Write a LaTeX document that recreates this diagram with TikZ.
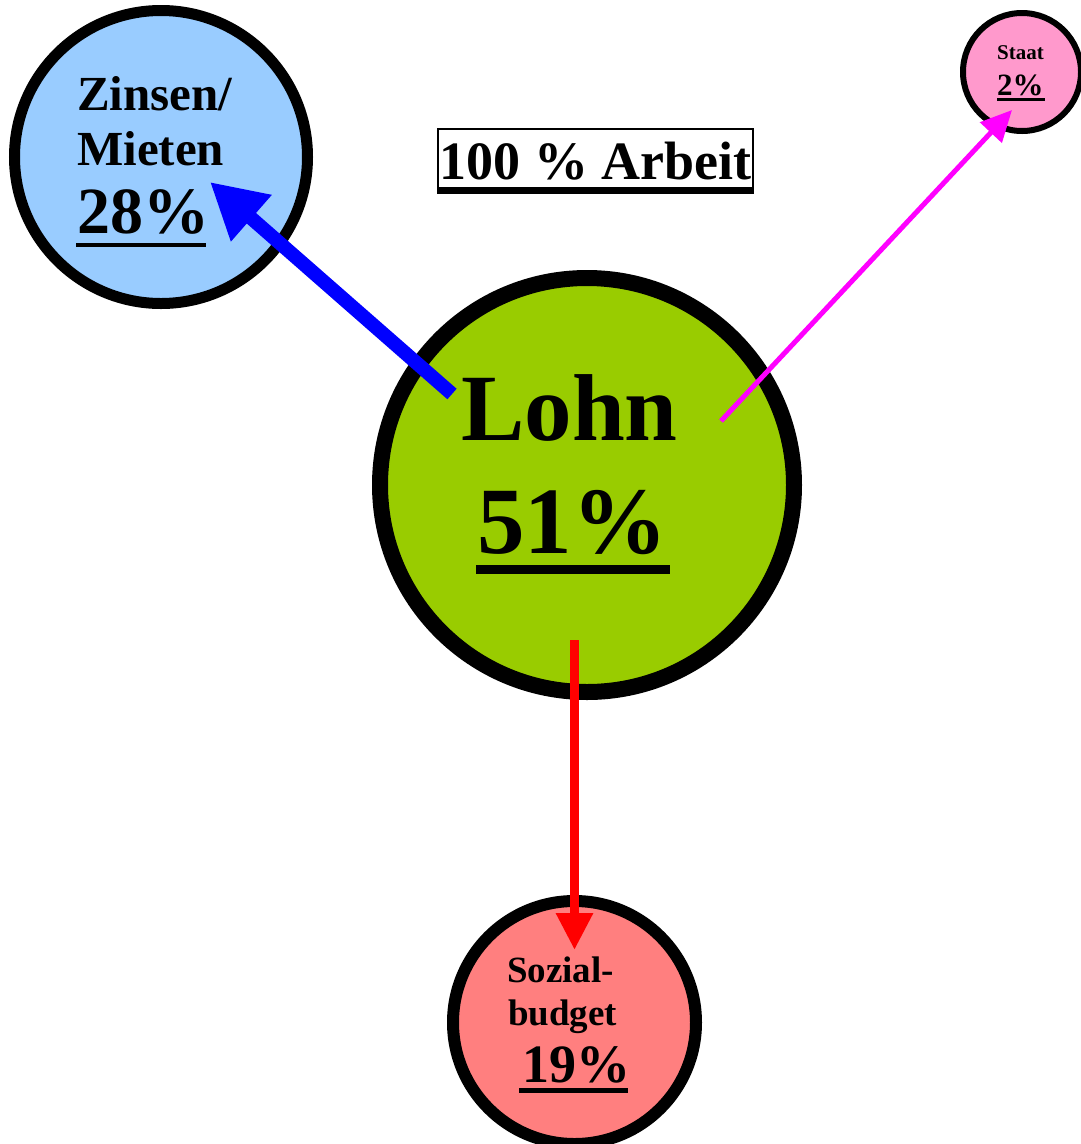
\documentclass[tikz,border=0pt]{standalone}
\usepackage{fontspec}
\setmainfont{Liberation Serif}
\usetikzlibrary{arrows.meta}
\definecolor{zblue}{HTML}{99CCFF}
\definecolor{spink}{HTML}{FF99CC}
\definecolor{lgreen}{HTML}{99CC00}
\definecolor{sred}{HTML}{FF7F7F}
\definecolor{amag}{HTML}{FF00FF}
\definecolor{ablue}{HTML}{0000FF}
\definecolor{ared}{HTML}{FF0000}
% #1 drop below baseline, #2 thickness, #3 left extension, #4 right extension, #5 text
\newcommand{\myul}[5]{\setbox0\hbox{#5}\rlap{\kern-#3\rule[\dimexpr-#1-#2\relax]{\dimexpr\wd0+#3+#4\relax}{#2}}\box0}
\newcommand{\fs}[1]{\fontsize{#1}{#1}\selectfont}
\begin{document}
\begin{tikzpicture}[x=1pt,y=-1pt,
  disc/.style={circle,draw=black,inner sep=0pt},
  lbl/.style={anchor=base west,inner sep=0pt,text=black}]
\useasboundingbox (0,0) rectangle (1080,1144);
% circles
\node[disc,fill=zblue,line width=11pt,minimum size=293pt] (zins) at (161,157) {};
\node[disc,fill=spink,line width=6pt,minimum size=118pt] (staat) at (1022,72) {};
\node[disc,fill=lgreen,line width=16pt,minimum size=414pt] (lohn) at (587,485) {};
\node[disc,fill=sred,line width=12pt,minimum size=243pt] (sozial) at (574.5,1022.5) {};
% title box
\node[draw=black,line width=1.5pt,fill=white,minimum width=315pt,minimum height=64pt,inner sep=0pt]
  (arbeit) at (595.5,161) {\fs{54}\bfseries 100 \% Arbeit};
\draw[line width=7pt] ([yshift=3.5pt]arbeit.south west) -- ([yshift=3.5pt]arbeit.south east);
% texts
\node[lbl] (z1) at (77,110) {\fs{49}\bfseries Zinsen/};
\node[lbl] (z2) at (77,165) {\fs{49}\bfseries Mieten};
\node[lbl] (z3) at (77,233) {\fs{66}\bfseries\myul{10pt}{4pt}{1pt}{-3pt}{28\%}};
\node[lbl] (s1) at (997,59) {\fs{21}\bfseries Staat};
\node[lbl] (s2) at (997,95) {\fs{31}\bfseries\myul{3pt}{3pt}{0pt}{1.5pt}{2\%}};
\node[lbl] (l1) at (461,440) {\fs{95}\bfseries Lohn};
\node[lbl] (l2) at (477,553) {\fs{95}\bfseries\myul{12pt}{9pt}{1pt}{3pt}{51\%}};
\node[lbl] (o1) at (507,982) {\fs{37}\bfseries Sozial-};
\node[lbl] (o2) at (508,1025) {\fs{37}\bfseries budget};
\node[lbl] (o3) at (522,1082) {\fs{54}\bfseries\myul{6pt}{5pt}{3pt}{-2pt}{19\%}};
% arrows
\coordinate (bt) at (452,394);
\coordinate (bh) at (210,182);
\coordinate (mt) at (721,421);
\coordinate (mh) at (1012,110);
\coordinate (rt) at (574.5,640);
\coordinate (rh) at (574.5,950);
\draw[ablue,line width=14pt,-{Triangle[length=55pt,width=58pt]}] (bt) -- (bh);
\draw[amag,line width=5pt,-{Triangle[length=31pt,width=29pt]}] (mt) -- (mh);
\draw[ared,line width=9pt,-{Triangle[length=37pt,width=35pt]}] (rt) -- (rh);
\end{tikzpicture}
\end{document}
